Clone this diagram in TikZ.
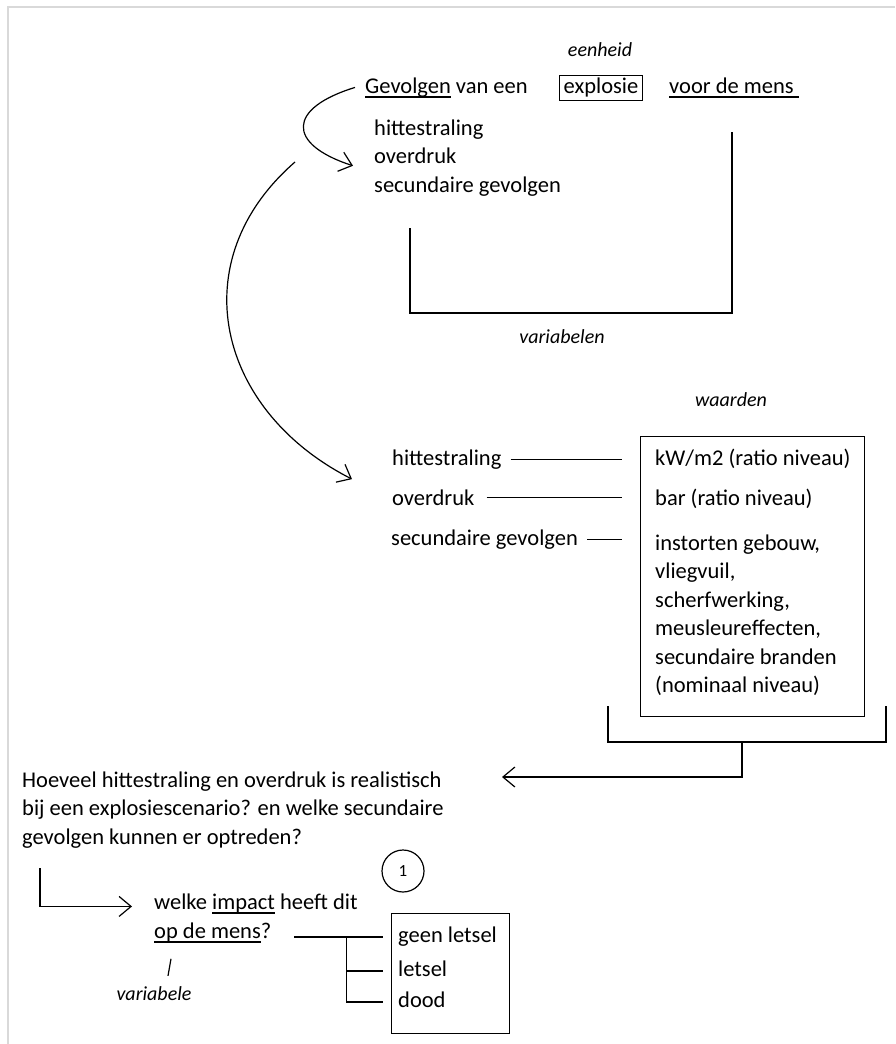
\documentclass[tikz,border=0pt]{standalone}
\usepackage{fontspec}
\setmainfont{Carlito}
\usetikzlibrary{positioning}
\usetikzlibrary{arrows.meta}
\newcommand{\onder}[1]{\setbox0\hbox{#1}\rlap{\rule[-4.5pt]{\wd0}{1.1pt}}\box0\relax}

\begin{document}
\begin{tikzpicture}[%
x=1pt, y=-1pt,
every node/.style={inner sep=0pt, font=\fontsize{22.5}{28.5}\selectfont},
tekst/.style={anchor=base west},
cursief/.style={font=\fontsize{20}{24}\selectfont\itshape},
keuze/.style={anchor=west, text height=15pt, text depth=4.5pt},
lijn/.style={line width=1.2pt},
pijl/.style={lijn,-{Straight Barb[length=12pt,width=20pt]}},
kader/.style={line width=2pt,gray!30}]
\useasboundingbox (0,0) rectangle (895,1044);
\draw [kader] (8,1044) -- (8,7) -- (895,7);

\node [cursief] (eenheid) at (600,50) {eenheid};
\node [tekst] (gevolgen) at (365,93) {\onder{Gevolgen} van een};
\node [lijn, draw, anchor=base, text height=15pt, text depth=5pt, inner xsep=4.5pt, inner ysep=2.5pt] (explosie) at (601,93) {explosie};
\node [tekst] (mens) at (669,93) {\onder{voor de mens\ }};
\node [tekst] (hitte1) at (374,135) {hittestraling};
\node [tekst] (druk1) at (374,163.5) {overdruk};
\node [tekst] (secundair1) at (374,192) {secundaire gevolgen};
\draw [pijl] ([xshift=-10pt]gevolgen.west) to [out=197,in=162,looseness=2.3] ([xshift=-21pt,yshift=-10pt]druk1.west);
\draw [lijn] (410,228) |- (732,313) -- (732,132);
\node [cursief] (variabelen) at (562,337) {variabelen};

\coordinate (boogstart) at (295,162);
\node [tekst] (hitte2) at (392,465) {hittestraling};
\node [tekst] (druk2) at (392,505) {overdruk};
\node [tekst] (secundair2) at (391,545) {secundaire gevolgen};
\draw [pijl] (boogstart) to [out=221,in=153,looseness=1.2] ([xshift=-40pt,yshift=-20pt]hitte2.west);
\node [cursief] (waarden) at (731,400) {waarden};
\node [lijn, draw, anchor=north west, minimum width=224pt, minimum height=280pt] (waardebox) at (640,436) {};
\node [tekst] (kw) at (655,465) {kW/m2 (ratio niveau)};
\node [tekst] (bar) at (655,505) {bar (ratio niveau)};
\node [tekst, align=left] (gevolgwaarden) at (655,692.5) {instorten gebouw,\\vliegvuil,\\scherfwerking,\\meusleureffecten,\\secundaire branden\\(nominaal niveau)};
\draw [lijn, shorten <=9pt, shorten >=18pt] (hitte2.east) -- (hitte2.east -| waardebox.west);
\draw [lijn, shorten <=12pt, shorten >=18pt] (druk2.east) -- (druk2.east -| waardebox.west);
\draw [lijn, shorten <=9pt, shorten >=18pt] (secundair2.east) -- (secundair2.east -| waardebox.west);
\draw [lijn] (608,706) |- (886,742) -- (886,706);

\coordinate (haakmidden) at (742,742);
\coordinate (vraagpijl) at (502,777);
\node [tekst, align=left] (vraag) at (22,844) {Hoeveel hittestraling en overdruk is realistisch\\bij een explosiescenario? en welke secundaire\\gevolgen kunnen er optreden?};
\draw [pijl] (haakmidden) |- (vraagpijl);
\node [lijn, draw, circle, minimum size=42pt, font=\fontsize{17}{17}\selectfont] (nummer) at (403,871) {1};
\node [tekst] (impact) at (154,909) {welke \onder{impact} heeft dit};
\node [tekst] (opdemens) at (154,938) {\onder{op de mens}?};
\draw [pijl] ([xshift=18pt,yshift=-20pt]vraag.south west) |- ([xshift=-22pt,yshift=-3pt]impact.west);
\node [cursief] (variabele) at (154,994) {variabele};
\draw [lijn] ([xshift=17pt,yshift=28pt]variabele.north) -- ([xshift=14pt,yshift=11pt]variabele.north);

\node [lijn, draw, anchor=north west, minimum width=118pt, minimum height=120pt] (uitkomst) at (391,913) {};
\node [keuze] (geen) at (398,937) {geen letsel};
\node [keuze] (letsel) at (398,971) {letsel};
\node [keuze] (dood) at (398,1002) {dood};
\coordinate (tak) at ([xshift=75pt]opdemens.east |- geen.west);
\draw [lijn, shorten >=8pt] ([xshift=23pt]opdemens.east |- geen.west) -- (geen.west -| uitkomst.west);
\draw [lijn, shorten >=8pt] (tak) |- (letsel.west -| uitkomst.west);
\draw [lijn, shorten >=8pt] (tak) |- (dood.west -| uitkomst.west);
\end{tikzpicture}
\end{document}
